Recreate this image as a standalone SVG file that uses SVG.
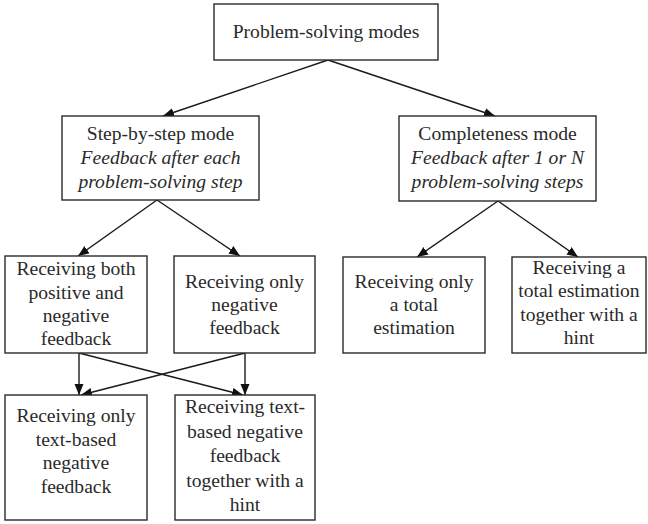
<svg xmlns="http://www.w3.org/2000/svg" width="648" height="524" viewBox="0 0 648 524">
<style>
.box{fill:#fff;stroke:#2a2a2a;stroke-width:1.4}
.t{font-family:"Liberation Serif","Times New Roman",serif;font-size:19.6px;fill:#2a2a2a;text-anchor:middle}
.i{font-style:italic}
.c{stroke:#1a1a1a;stroke-width:1.4;fill:none;marker-end:url(#ah)}
</style>
<defs>
<marker id="ah" markerUnits="userSpaceOnUse" markerWidth="12" markerHeight="10" refX="11" refY="4.5" orient="auto">
<path d="M0,0 L11,4.5 L0,9 z" fill="#111"/>
</marker>
</defs>
<rect width="648" height="524" fill="#fff"/>
<g id="connectors">
<line class="c" x1="328" y1="60" x2="163" y2="116"/>
<line class="c" x1="328" y1="60" x2="495" y2="116"/>
<line class="c" x1="157" y1="200" x2="78" y2="256"/>
<line class="c" x1="157" y1="200" x2="240" y2="256"/>
<line class="c" x1="498" y1="201" x2="417" y2="257"/>
<line class="c" x1="498" y1="201" x2="578" y2="257"/>
<line class="c" x1="79" y1="353" x2="79" y2="395"/>
<line class="c" x1="245" y1="353" x2="245" y2="395"/>
<line class="c" x1="79" y1="353" x2="243" y2="395"/>
<line class="c" x1="245" y1="353" x2="81" y2="395"/>
</g>
<g id="root">
<rect class="box" x="214" y="4" width="224" height="56"/>
<text class="t" x="326" y="38">Problem-solving modes</text>
</g>
<g id="stepbystep">
<rect class="box" x="62" y="116" width="197" height="84"/>
<text class="t" x="160.5" y="140">Step-by-step mode</text>
<text class="t i" x="160.5" y="164">Feedback after each</text>
<text class="t i" x="160.5" y="188">problem-solving step</text>
</g>
<g id="completeness">
<rect class="box" x="399" y="116" width="197" height="85"/>
<text class="t" x="497.5" y="140">Completeness mode</text>
<text class="t i" x="497.5" y="164">Feedback after 1 or N</text>
<text class="t i" x="497.5" y="188">problem-solving steps</text>
</g>
<g id="both">
<rect class="box" x="5" y="256" width="142" height="97"/>
<text class="t" x="76" y="275">Receiving both</text>
<text class="t" x="76" y="299">positive and</text>
<text class="t" x="76" y="322">negative</text>
<text class="t" x="76" y="345">feedback</text>
</g>
<g id="onlynegative">
<rect class="box" x="174" y="256" width="141" height="97"/>
<text class="t" x="244.5" y="288">Receiving only</text>
<text class="t" x="244.5" y="311">negative</text>
<text class="t" x="244.5" y="334">feedback</text>
</g>
<g id="totalonly">
<rect class="box" x="343" y="257" width="142" height="96"/>
<text class="t" x="414" y="288">Receiving only</text>
<text class="t" x="414" y="311">a total</text>
<text class="t" x="414" y="334">estimation</text>
</g>
<g id="totalhint">
<rect class="box" x="512" y="257" width="134" height="96"/>
<text class="t" x="579" y="274">Receiving a</text>
<text class="t" x="579" y="297">total estimation</text>
<text class="t" x="579" y="321">together with a</text>
<text class="t" x="579" y="344">hint</text>
</g>
<g id="textonly">
<rect class="box" x="5" y="395" width="142" height="125"/>
<text class="t" x="76" y="422">Receiving only</text>
<text class="t" x="76" y="446">text-based</text>
<text class="t" x="76" y="469">negative</text>
<text class="t" x="76" y="493">feedback</text>
</g>
<g id="texthint">
<rect class="box" x="175" y="395" width="140" height="125"/>
<text class="t" x="245" y="413">Receiving text-</text>
<text class="t" x="245" y="438">based negative</text>
<text class="t" x="245" y="462">feedback</text>
<text class="t" x="245" y="487">together with a</text>
<text class="t" x="245" y="511">hint</text>
</g>
</svg>
